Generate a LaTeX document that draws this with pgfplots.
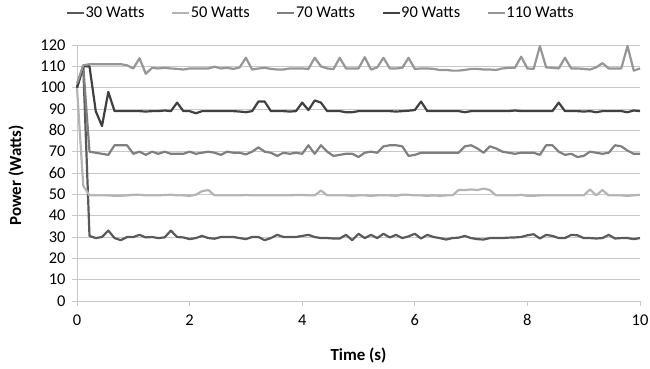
\documentclass[border=0pt]{standalone}
\usepackage{fontspec}
\setmainfont{Carlito}
\usepackage{pgfplots}
\pgfplotsset{compat=1.18}
\usepackage{pgfplotstable}
\definecolor{cA}{HTML}{595959}
\definecolor{cB}{HTML}{B4B4B4}
\definecolor{cC}{HTML}{7F7F7F}
\definecolor{cD}{HTML}{404040}
\definecolor{cE}{HTML}{969696}
\definecolor{gridc}{HTML}{C8C8C8}
\pgfplotstableread{
t w30 w50 w70 w90 w110
0.000 100 100 100 100 102
0.111 110 54 110 110 110.5
0.222 30.5 49.5 70 110 111
0.333 29.5 49.5 69.5 89 111
0.444 30 49.5 69 82 111
0.556 33 49.5 68.5 98 111
0.667 29.5 49.3 73 89 111
0.778 28.5 49.3 73 89 111
0.889 30 49.5 73 89 110.5
1.000 30 49.8 69 89 109
1.111 31 49.8 70 89 113.8
1.222 29.8 49.5 68.5 88.8 106.5
1.333 30 49.5 70 89 109.3
1.444 29.5 49.5 69 89 109
1.556 29.8 49.7 70 89.3 109.3
1.667 33 49.8 69 89 109
1.778 30 49.5 69 93 108.8
1.889 29.8 49.5 69 89 108.5
2.000 29 49.3 70 89 109
2.111 29.5 49.8 69 88 109
2.222 30.5 51.5 69.5 89 109
2.333 29.5 52 70 89 109
2.444 29.2 49.5 69.5 89 109.8
2.556 30 49.5 68.5 89 109
2.667 30 49.5 70 89 109.3
2.778 30 49.5 69.5 89 108.8
2.889 29.5 49.5 69.5 88.8 109.5
3.000 29 49.7 68.7 88.5 114
3.111 30 49.5 70 89 108.5
3.222 30 49.5 72 93.5 109
3.333 28.5 49.5 70 93.5 109.3
3.444 29.5 49.5 69.5 89 108.8
3.556 31 49.5 68 89 108.5
3.667 30 49.5 69.5 89 108.5
3.778 30 49.5 69 88.8 109
3.889 30 49.7 69.5 89 109
4.000 30.5 49.7 69 93 109
4.111 31 49.5 73 89.5 108.8
4.222 30 49.5 69 94 114
4.333 29.5 51.8 73 93 110
4.444 29.5 49.5 70 89 109
4.556 29.3 49.5 68 89 108.7
4.667 29.3 49.5 68.5 89 114
4.778 31 49.5 69 88.5 109
4.889 28.5 49.3 69 88.5 109
5.000 31.5 49.5 67.5 89 109
5.111 29.5 49.5 69.5 89 114.3
5.222 31 49.3 70 89 108.5
5.333 29.5 49.5 69.5 89 109.5
5.444 31.5 49.5 72.5 89 114
5.556 29.8 49.5 73 89 109
5.667 31 49.3 73 88.8 109
5.778 29.5 49.8 72.5 89 109.3
5.889 30.3 49.8 68 89.2 114
6.000 31.5 49.5 68.5 89.5 108.8
6.111 29.3 49.5 69.5 93.5 109
6.222 31 49.3 69.5 89 109
6.333 30 49.5 69.5 89 108.8
6.444 29.5 49.3 69.5 89 108.3
6.556 28.8 49.5 69.5 89 108.3
6.667 29.5 49.5 69.5 89 108
6.778 29.7 52 69.5 89 108
6.889 30.5 52 72.5 88.5 108.3
7.000 29.5 52.3 73 89 108.8
7.111 29 52 71.5 89 108.8
7.222 28.8 52.7 69.5 89 108.5
7.333 29.5 52 72.5 89 108.5
7.444 29.5 49.5 71.5 89 108.3
7.556 29.5 49.5 70 89 109
7.667 29.7 49.5 69.5 89 109.3
7.778 29.8 49.5 69 89.3 109.3
7.889 30 49.8 69.5 89 114.5
8.000 30.8 49.3 69.5 89 109
8.111 31.3 49.3 69.5 89 108.8
8.222 29.3 49.5 68.5 89 119.5
8.333 31 49.5 73 89 109.5
8.444 30.5 49.5 73 89 109.3
8.556 29.5 49.5 70 93 109
8.667 29.5 49.5 68.5 89 114
8.778 31 49.5 69 89 109
8.889 30.8 49.5 67.5 89 109
9.000 29.5 49.5 68 88.8 108.8
9.111 29.5 52.3 70 89 108.5
9.222 29.3 49.5 69.5 88.5 109.5
9.333 29.5 52 69 89 111.5
9.444 31 49.5 69.5 89 109
9.556 29.3 49.5 73 89 109
9.667 29.5 49.5 72.5 89 109
9.778 29.5 49.3 70.5 88.5 119.5
9.889 29 49.5 69 89.3 108
10.000 29.5 49.8 69 89 109
}\data
\begin{document}
\begin{tikzpicture}
\useasboundingbox (-77bp,-68bp) rectangle (573bp,301bp);
\begin{axis}[
  at={(0,0)}, anchor=south west,
  scale only axis, width=563bp, height=256bp,
  xmin=0, xmax=10, ymin=0, ymax=120,
  xtick={0,2,4,6,8,10}, ytick={0,10,...,120},
  axis lines*=left,
  axis line style={gridc, line width=0.8pt},
  ymajorgrids, grid style={gridc, line width=0.8pt},
  tick style={gridc, line width=0.8pt},
  tick align=outside, major tick length=5bp,
  /pgf/number format/assume math mode=true,
  ticklabel style={font=\fontsize{16.5}{19}\selectfont, text=black},
  xticklabel style={yshift=-5bp},
  yticklabel style={xshift=-3bp},
  xlabel={\textbf{Time (s)}}, ylabel={\textbf{Power (Watts)}},
  every axis x label/.style={at={(axis description cs:0.5,-0.211)}, anchor=center, font=\fontsize{17}{20}\selectfont},
  every axis y label/.style={at={(axis description cs:-0.108,0.49)}, anchor=center, rotate=90, font=\fontsize{17}{20}\selectfont},
  legend columns=5,
  legend style={draw=none, fill=none, at={(axis description cs:-0.020,1.153)}, anchor=north west,
    font=\fontsize{16.5}{19}\selectfont, /tikz/every even column/.append style={column sep=26bp},
    inner sep=0pt, nodes={inner sep=0.5bp}},
  legend image code/.code={\draw[#1] (0bp,0bp) -- (17bp,0bp);},
  legend cell align=left,
  every axis plot/.append style={line width=2.2pt, line join=round, mark=none},
  clip=false,
]
\addplot[cA] table[x=t, y=w30] {\data};
\addplot[cB] table[x=t, y=w50] {\data};
\addplot[cC] table[x=t, y=w70] {\data};
\addplot[cD] table[x=t, y=w90] {\data};
\addplot[cE] table[x=t, y=w110] {\data};
\legend{30 Watts, 50 Watts, 70 Watts, 90 Watts, 110 Watts}
\end{axis}
\end{tikzpicture}
\end{document}
